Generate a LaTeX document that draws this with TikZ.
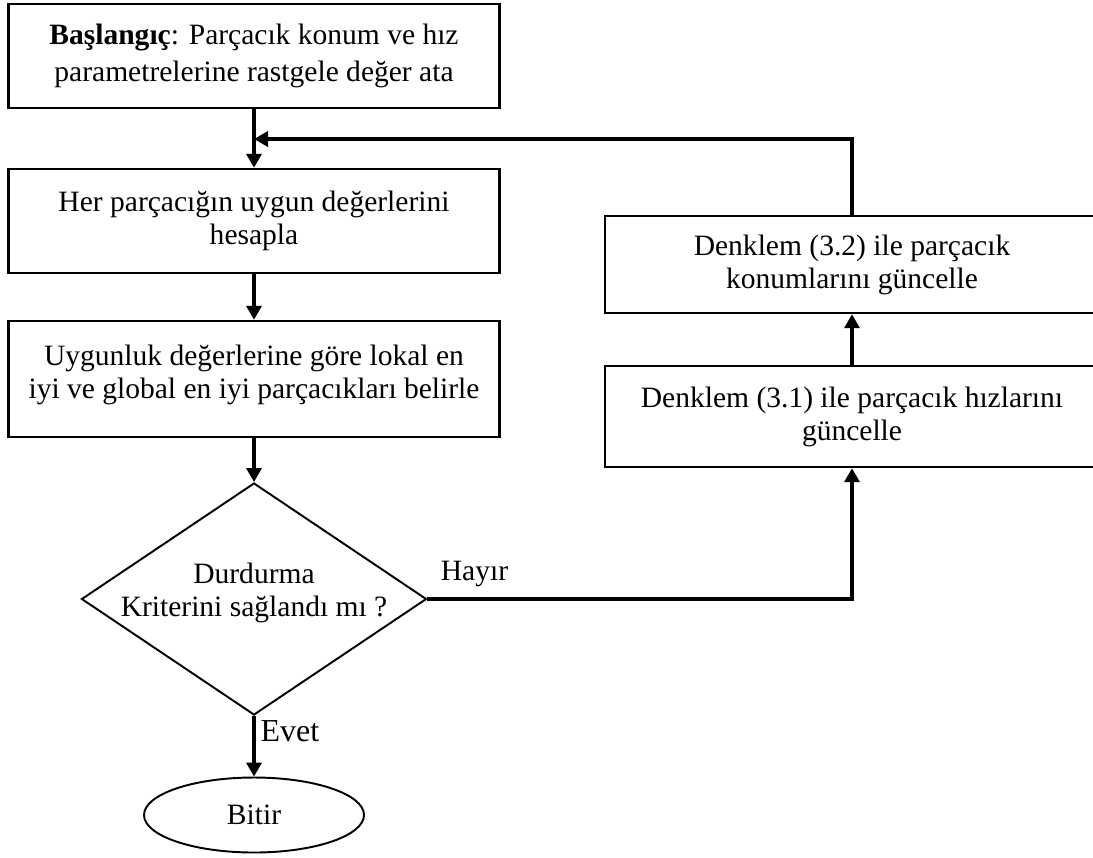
\documentclass[tikz,border=0pt]{standalone}
\usepackage{fontspec}
\setmainfont{Liberation Serif}
\usetikzlibrary{positioning,shapes.geometric,arrows.meta}

\begin{document}
\begin{tikzpicture}[font=\fontsize{16.8}{18.8}\selectfont, line join=miter, >={Triangle[length=2.8mm,width=3mm]},
	box/.style={draw, line width=1.4pt, minimum width=9.82cm, align=center, inner sep=0pt},
	rbox/.style={box, minimum width=9.88cm},
	flow/.style={->, line width=2.1pt}]
	\useasboundingbox (0,0) rectangle (21.86,-17.14);
	% left column
	\node[box, minimum height=2.08cm] (init) at (5.08,-1.12) {\textbf{Başlangıç}: Parçacık konum ve hız\\[2pt]parametrelerine rastgele değer ata};
	\node[box, minimum height=2.08cm] (fit) at (5.08,-4.42) {Her parçacığın uygun değerlerini\\hesapla};
	\node[box, minimum height=2.32cm] (best) at (5.08,-7.58) {Uygunluk değerlerine göre lokal en\\iyi ve global en iyi parçacıkları belirle\\[-10pt]\mbox{}};
	\node[diamond, draw, line width=1.1pt, aspect=1.487, minimum width=6.9cm, minimum height=4.64cm, inner xsep=-8mm, inner ysep=-3mm, align=center] (stop) at (5.08,-11.98) {Durdurma\\Kriterini sağlandı mı ?\\[-8pt]\mbox{}};
	\node[ellipse, draw, line width=1.1pt, minimum width=4.4cm, minimum height=1.5cm] (end) at (5.08,-16.3) {Bitir};
	% right column
	\node[rbox, minimum height=1.94cm] (pos) at (17.04,-5.29) {Denklem (3.2) ile parçacık\\konumlarını güncelle};
	\node[rbox, minimum height=2.02cm] (vel) at (17.04,-8.33) {Denklem (3.1) ile parçacık hızlarını\\güncelle};
	\coordinate (join) at (5.08,-2.78);
	% labels
	\node (no) at (9.49,-11.48) {Hayır};
	\node[font=\fontsize{18.2}{20}\selectfont] (yes) at (5.8,-14.62) {Evet};
	% connectors
	\draw[flow] (init) -- (fit);
	\draw[flow] (fit) -- (best);
	\draw[flow] (best) -- (stop);
	\draw[flow] (stop) -- (end);
	\draw[flow] (stop.east) -| (vel);
	\draw[flow] (vel) -- (pos);
	\draw[flow] (pos) |- (join);
\end{tikzpicture}
\end{document}
